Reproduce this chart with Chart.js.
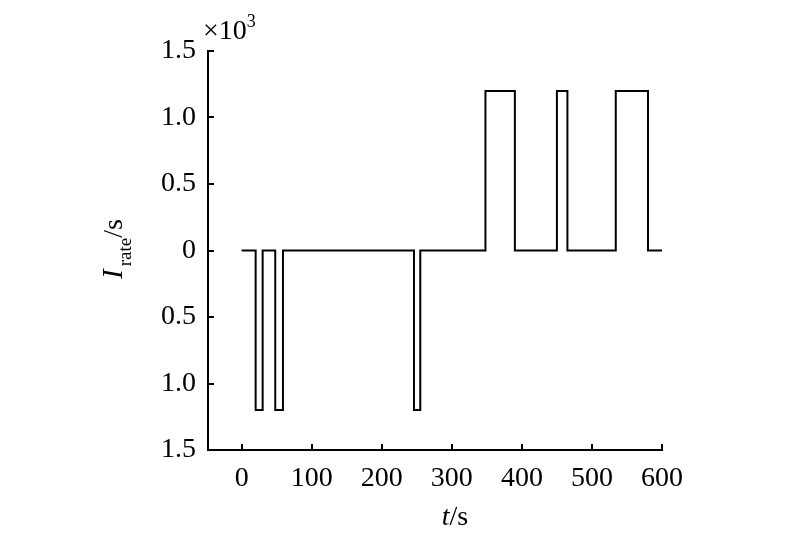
<!DOCTYPE html>
<html>
<head>
<meta charset="utf-8">
<script src="https://cdn.jsdelivr.net/npm/chart.js@4.4.1/dist/chart.umd.min.js"></script>
<style>
  html, body { margin: 0; padding: 0; background: #fff; }
  #wrap { width: 800px; height: 549px; }
</style>
</head>
<body>
<div id="wrap"><canvas id="chart" width="800" height="549"></canvas></div>
<script>
// switching times (s) and the rate level (x10^3 /s) held from each time on
const switchTimes = [0, 20, 30, 48, 59, 246, 255, 348, 390, 450, 465, 534, 580, 603];
const rateLevels = [0, -1.2, 0, -1.2, 0, -1.2, 0, 1.2, 0, 1.2, 0, 1.2, 0, 0];
const xTicks = [0, 100, 200, 300, 400, 500, 600];
const yTicks = [-1.5, -1.0, -0.5, 0, 0.5, 1.0, 1.5];

const FONT = "'Liberation Serif', 'Times New Roman', serif";

const points = switchTimes.map((t, i) => ({ x: t, y: rateLevels[i] }));

// inward ticks plus the titles with italic / subscript / superscript parts
const decorations = {
    id: "decorations",
    afterDraw(chart) {
        const { ctx, scales, chartArea } = chart;
        const xs = scales.x;
        const ys = scales.y;
        ctx.save();
        ctx.strokeStyle = "#000";
        ctx.lineWidth = 2;
        ctx.beginPath();
        xTicks.forEach((v) => {
            const px = Math.round(xs.getPixelForValue(v));
            ctx.moveTo(px, chartArea.bottom);
            ctx.lineTo(px, chartArea.bottom - 6);
        });
        yTicks.forEach((v) => {
            const py = Math.round(ys.getPixelForValue(v));
            ctx.moveTo(chartArea.left, py);
            ctx.lineTo(chartArea.left + 6, py);
        });
        ctx.stroke();

        ctx.fillStyle = "#000";
        ctx.textBaseline = "alphabetic";

        // x title: t/s
        ctx.textAlign = "left";
        ctx.font = "italic 28px " + FONT;
        const tW = ctx.measureText("t").width;
        ctx.font = "28px " + FONT;
        const sW = ctx.measureText("/s").width;
        const xStart = 455 - (tW + sW) / 2;
        ctx.font = "italic 28px " + FONT;
        ctx.fillText("t", xStart, 525);
        ctx.font = "28px " + FONT;
        ctx.fillText("/s", xStart + tW, 525);

        // y title: I_rate/s, rotated
        ctx.save();
        ctx.translate(122, 249);
        ctx.rotate(-Math.PI / 2);
        ctx.font = "italic 29px " + FONT;
        const iW = ctx.measureText("I").width + 3;
        ctx.font = "19px " + FONT;
        const rW = ctx.measureText("rate").width;
        ctx.font = "28px " + FONT;
        const s2W = ctx.measureText("/s").width;
        let cx = -(iW + rW + s2W) / 2;
        ctx.font = "italic 29px " + FONT;
        ctx.fillText("I", cx, 0);
        cx += iW;
        ctx.font = "19px " + FONT;
        ctx.fillText("rate", cx, 9);
        cx += rW;
        ctx.font = "28px " + FONT;
        ctx.fillText("/s", cx, 0);
        ctx.restore();

        // multiplier x10^3
        ctx.font = "28px " + FONT;
        ctx.fillText("\u00d710", 203, 39);
        const mW = ctx.measureText("\u00d710").width;
        ctx.font = "18px " + FONT;
        ctx.fillText("3", 203 + mW, 27);
        ctx.restore();
    },
};

new Chart(document.getElementById("chart"), {
    type: "line",
    data: {
        datasets: [
            {
                data: points,
                stepped: "before",
                borderColor: "#000",
                borderWidth: 2,
                pointRadius: 0,
                fill: false,
            },
        ],
    },
    options: {
        responsive: false,
        animation: false,
        events: [],
        layout: { padding: { left: 0, right: 138, top: 51, bottom: 0 } },
        plugins: {
            legend: { display: false },
            tooltip: { enabled: false },
        },
        scales: {
            x: {
                type: "linear",
                min: -48,
                max: 600,
                afterBuildTicks: (scale) => {
                    scale.ticks = xTicks.map((v) => ({ value: v }));
                },
                grid: { display: false, drawTicks: false },
                border: { display: true, color: "#000", width: 2 },
                ticks: {
                    color: "#000",
                    padding: 12,
                    maxRotation: 0,
                    autoSkip: false,
                    font: { family: FONT, size: 28 },
                    callback: (v) => String(v),
                },
                afterFit: (scale) => {
                    scale.height = 99;
                },
            },
            y: {
                min: -1.5,
                max: 1.5,
                afterBuildTicks: (scale) => {
                    scale.ticks = yTicks.map((v) => ({ value: v }));
                },
                grid: { display: false, drawTicks: false },
                border: { display: true, color: "#000", width: 2 },
                ticks: {
                    color: "#000",
                    padding: 12,
                    autoSkip: false,
                    font: { family: FONT, size: 28 },
                    callback: (v) => (v === 0 ? "0" : Math.abs(v).toFixed(1)),
                },
                afterFit: (scale) => {
                    scale.width = 208;
                },
            },
        },
    },
    plugins: [decorations],
});
</script>
</body>
</html>
